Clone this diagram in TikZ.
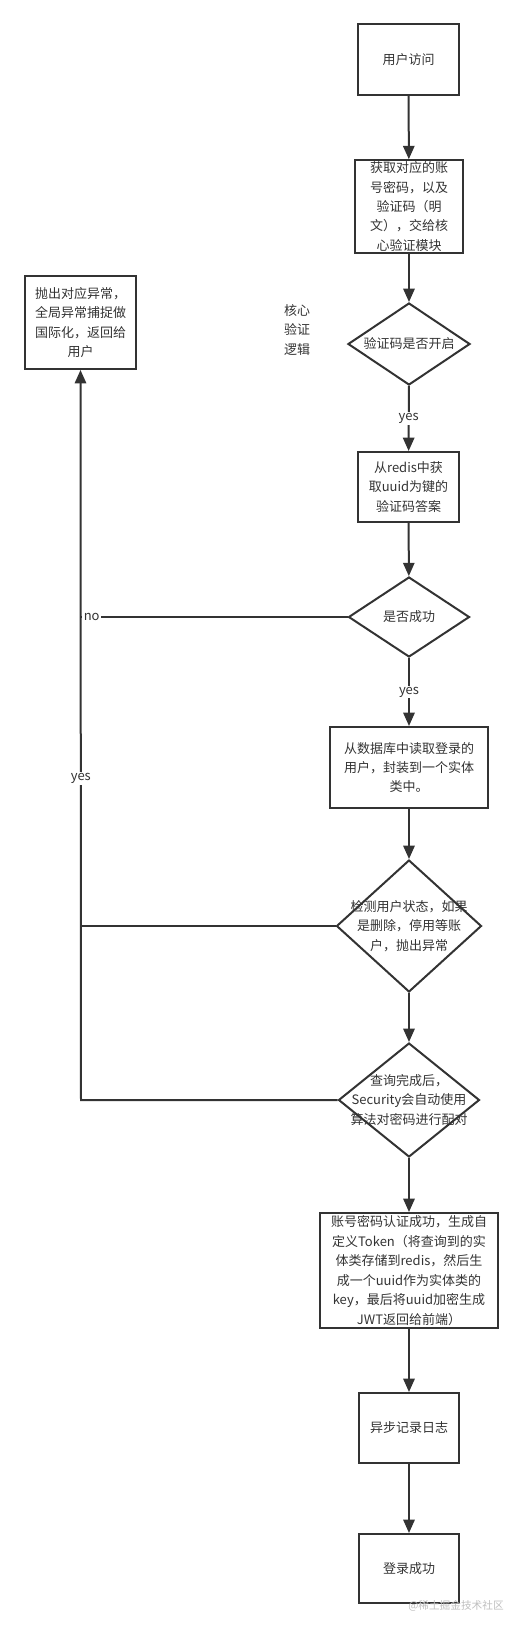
\documentclass[tikz,border=0pt]{standalone}
\usepackage{fontspec}
\setmainfont{Noto Sans CJK SC}
\usetikzlibrary{arrows.meta,shapes.geometric}
\definecolor{ink}{HTML}{333333}
\tikzset{
  u/.style={x=0.75pt,y=-0.75pt},
  box/.style={draw=ink,line width=1.5pt,align=center,inner sep=1pt,text=ink,
    font=\fontsize{9.75pt}{14.6pt}\selectfont},
  dia/.style={draw=ink,line width=1.5pt,shape=diamond,inner sep=0pt},
  dtext/.style={align=center,text=ink,font=\fontsize{9.75pt}{14.6pt}\selectfont},
  conn/.style={draw=ink,line width=1.5pt},
  arr/.style={conn,-{Triangle[length=10pt,width=8.5pt]}},
  lbl/.style={fill=white,inner sep=1pt,text=ink,font=\fontsize{9.75pt}{12pt}\selectfont}
}
\begin{document}
\begin{tikzpicture}[u]
\useasboundingbox (0,0) rectangle (522,1628);
\node[box,minimum width=101*0.75pt,minimum height=71*0.75pt] (b1) at (408.5,59.5) {用户访问};
\node[box,minimum width=108*0.75pt,minimum height=87*0.75pt] (b2) at (409,206.5) {获取对应的账\\号密码，以及\\验证码（明\\文），交给核\\心验证模块};
\node[box,minimum width=111*0.75pt,minimum height=93*0.75pt] (lb) at (80.5,322.5) {抛出对应异常，\\全局异常捕捉做\\国际化，返回给\\用户};
\node[dtext] (core) at (297,330) {核心\\验证\\逻辑};
\node[dia,minimum width=122*0.75pt,minimum height=82*0.75pt] (d1) at (409,344) {};
\node[dtext] (t1) at (d1) {验证码是否开启};
\node[box,minimum width=101*0.75pt,minimum height=70*0.75pt] (b3) at (408.5,487) {从redis中获\\取uuid为键的\\验证码答案};
\node[dia,minimum width=121*0.75pt,minimum height=80*0.75pt] (d2) at (409,617) {};
\node[dtext] (t2) at (d2) {是否成功};
\node[box,minimum width=158*0.75pt,minimum height=81*0.75pt] (b4) at (409,767.5) {从数据库中读取登录的\\用户，封装到一个实体\\类中。};
\node[dia,minimum width=145*0.75pt,minimum height=132*0.75pt] (d3) at (409,926) {};
\node[dtext] (t3) at (d3) {检测用户状态，如果\\是删除，停用等账\\户，抛出异常};
\node[dia,minimum width=141*0.75pt,minimum height=114*0.75pt] (d4) at (409,1100) {};
\node[dtext] (t4) at (d4) {查询完成后，\\Security会自动使用\\算法对密码进行配对};
\node[box,minimum width=178*0.75pt,minimum height=115*0.75pt] (b5) at (409,1270.5) {账号密码认证成功，生成自\\定义Token（将查询到的实\\体类存储到redis，然后生\\成一个uuid作为实体类的\\key，最后将uuid加密生成\\JWT返回给前端）};
\node[box,minimum width=100*0.75pt,minimum height=70*0.75pt] (b6) at (409,1428) {异步记录日志};
\node[box,minimum width=100*0.75pt,minimum height=69*0.75pt] (b7) at (409,1568.5) {登录成功};
\coordinate (j2) at (81,617);
\coordinate (j3) at (81,926);
\coordinate (j4) at (81,1100);
\draw[arr] (b1) -- (b2);
\draw[arr] (b2) -- (d1);
\draw[arr] (d1) -- node[lbl] {yes} (b3);
\draw[arr] (b3) -- (d2);
\draw[arr] (d2) -- node[lbl] {yes} (b4);
\draw[arr] (b4) -- (d3);
\draw[arr] (d3) -- (d4);
\draw[arr] (d4) -- (b5);
\draw[arr] (b5) -- (b6);
\draw[arr] (b6) -- (b7);
\draw[conn] (d2.west) -- node[lbl,pos=0.96] {no} (j2);
\draw[conn] (d3.west) -- (j3);
\draw[arr] (d4.west) -- (j4) -- node[lbl,pos=0.44] {yes} (lb.south);
\node[text=black!25,font=\fontsize{8pt}{10pt}\selectfont] (wm) at (456,1606) {@稀土掘金技术社区};
\end{tikzpicture}
\end{document}
